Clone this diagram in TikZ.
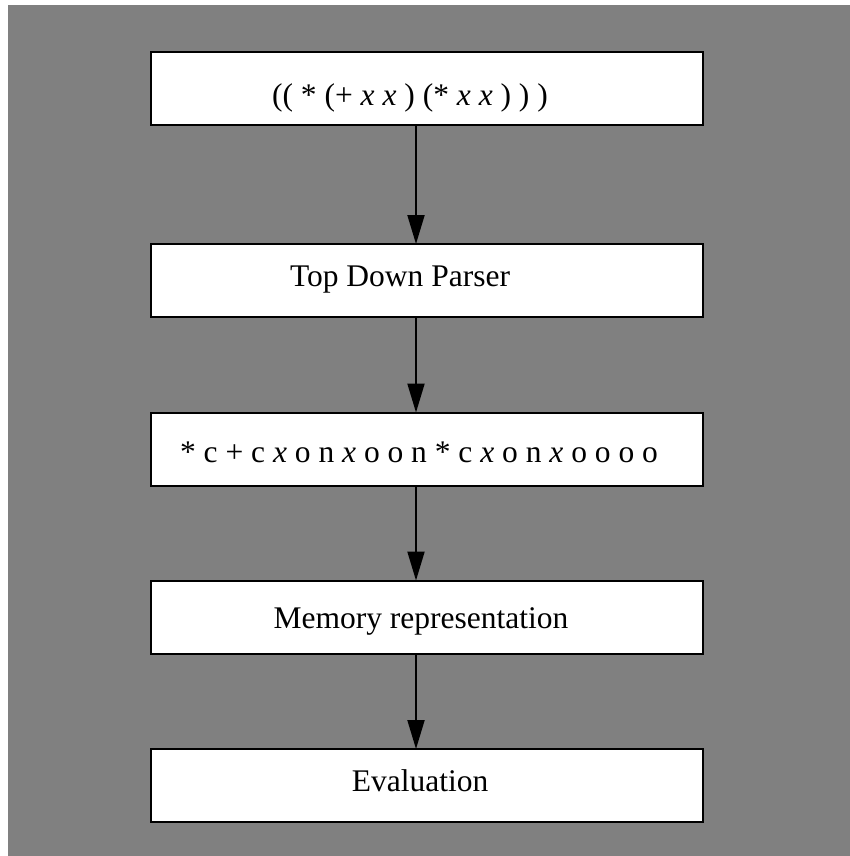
\documentclass[tikz,border=0pt]{standalone}
\usepackage{fontspec}
\setmainfont{Liberation Serif}
\usetikzlibrary{arrows.meta}
\definecolor{bggray}{RGB}{128,128,128}
\begin{document}
\begin{tikzpicture}[x=1pt,y=-1pt,
  stagebox/.style={draw=black, line width=2pt, fill=white, minimum width=552pt, minimum height=73pt, inner sep=0pt, outer sep=0pt},
  stagetext/.style={anchor=base, inner sep=0pt, font=\fontsize{31.5}{36}\selectfont},
  flow/.style={line width=2pt, -{Triangle[length=29pt,width=17pt]}}]
\useasboundingbox (0,0) rectangle (850,856);
\fill[white] (0,0) rectangle (850,856);
\fill[bggray] (8,5) rectangle (850,856);
\node[stagebox] (b1) at (427,88.5) {};
\node[stagebox] (b2) at (427,280.5) {};
\node[stagebox] (b3) at (427,449) {};
\node[stagebox] (b4) at (427,617) {};
\node[stagebox] (b5) at (427,785.5) {};
\node[stagetext] (t1) at (410,106) {(( * (+ \textit{x} \textit{x} ) (* \textit{x} \textit{x} ) ) )};
\node[stagetext] (t2) at (400,286) {Top Down Parser};
\node[stagetext] (t3) at (419,462) {* c + c \textit{x} o n \textit{x} o o n * c \textit{x} o n \textit{x} o o o o};
\node[stagetext] (t4) at (421,628) {Memory representation};
\node[stagetext] (t5) at (420,791) {Evaluation};
\coordinate (ax) at (416,0);
\draw[flow] (b1.south -| ax) -- (b2.north -| ax);
\draw[flow] (b2.south -| ax) -- (b3.north -| ax);
\draw[flow] (b3.south -| ax) -- (b4.north -| ax);
\draw[flow] (b4.south -| ax) -- (b5.north -| ax);
\end{tikzpicture}
\end{document}
